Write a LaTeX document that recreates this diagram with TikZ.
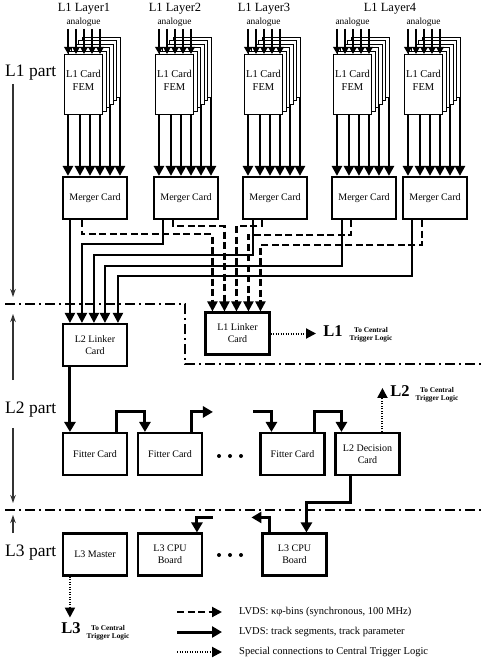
\documentclass[tikz,border=0pt]{standalone}
\usepackage{fontspec}
\setmainfont{Liberation Serif}
\usetikzlibrary{arrows.meta}
\begin{document}
\begin{tikzpicture}[x=1pt,y=-1pt,
 box/.style={draw,line width=2.1pt,fill=white,minimum width=64pt,minimum height=42pt,inner sep=1pt,align=center,font=\fontsize{10}{12}\selectfont},
 card/.style={draw,line width=0.9pt,fill=white,minimum width=38pt,minimum height=60pt,inner sep=0pt,anchor=north west},
 feed/.style={line width=2.8pt,-{Triangle[length=10pt,width=10pt]}},
 ana/.style={line width=2.3pt,-{Triangle[length=7pt,width=7.5pt]}},
 sc/.style={line width=2.1pt,-{Triangle[length=10pt,width=10pt]}},
 dc/.style={sc,dash pattern=on 7pt off 3.5pt},
 fc/.style={line width=3pt,-{Triangle[length=10pt,width=11pt]}},
 dotc/.style={line width=2pt,dash pattern=on 1.2pt off 1.3pt,-{Triangle[length=10pt,width=10pt]}},
 bound/.style={line width=1.6pt,dash pattern=on 10pt off 4pt on 2pt off 4pt},
 side/.style={line width=1.3pt,draw=black!80,-{Stealth[length=8pt,width=5.5pt]}},
 part/.style={font=\fontsize{17.5}{20}\selectfont,inner sep=0pt,anchor=west},
 big/.style={font=\fontsize{16.5}{18}\selectfont\bfseries,inner sep=0pt},
 small/.style={font=\fontsize{7.3}{8.3}\selectfont\bfseries,align=center,inner sep=0pt},
 lay/.style={font=\fontsize{12.5}{14}\selectfont,inner sep=0pt},
 analab/.style={font=\fontsize{9.4}{11}\selectfont,inner sep=0pt},
 femlab/.style={font=\fontsize{10.5}{13}\selectfont,align=center,inner sep=0pt},
 leg/.style={font=\fontsize{10.5}{12}\selectfont,anchor=west,inner sep=0pt}
]
\useasboundingbox (0,0) rectangle (484,671);

% merger cards
\foreach \s/\cx in {1/95,2/186,3/275,4/364,5/435}
  \node[box] (m\s) at (\cx,198) {Merger Card};

% L1 card stacks
\foreach \s/\X in {1/64,2/155,3/244,4/333,5/404}{
  \foreach \dx in {6,18,28,38,48,58}
    \draw[feed] ([xshift=\dx pt,yshift=110pt]m\s.north west) -- ([xshift=\dx pt]m\s.north west);
  \foreach \k in {5,4,3,2,1,0}
    \node[card] (c\s k\k) at ({\X+3.6*\k},{54-3.4*\k}) {};
  \node[femlab] (fem\s) at ({\X+19.5},80) {L1 Card\\FEM};
  \foreach \ax in {4,12,20,28,36}
    \draw[ana] ([xshift=\ax pt,yshift=25pt]c\s k0.north west) -- ([xshift=\ax pt]c\s k0.north west);
  \node[analab] (an\s) at ({\X+19.5},22) {analogue};
}

\node[lay] (lay1) at (84,9) {L1 Layer1};
\node[lay] (lay2) at (175,9) {L1 Layer2};
\node[lay] (lay3) at (264,9) {L1 Layer3};
\node[lay] (lay4) at (390,9) {L1 Layer4};

% linkers
\node[box] (l1) at (237.5,333.5) {L1 Linker\\Card};
\node[box] (l2) at (95,345) {L2 Linker\\Card};

% merger -> L2 linker
\draw[sc] ([xshift=8pt]m1.south west) -- ([xshift=8pt]l2.north west);
\draw[sc] ([xshift=10pt]m2.south west) -- ++(0,24) -| ([xshift=20pt]l2.north west);
\draw[sc] ([xshift=11pt]m3.south west) -- ++(0,35) -| ([xshift=32pt]l2.north west);
\draw[sc] ([xshift=11pt]m4.south west) -- ++(0,46) -| ([xshift=43pt]l2.north west);
\draw[sc] ([xshift=10pt]m5.south west) -- ++(0,56) -| ([xshift=56pt]l2.north west);
% merger -> L1 linker
\draw[dc] ([xshift=20pt]m1.south west) -- ++(0,14) -| ([xshift=8pt]l1.north west);
\draw[dc] ([xshift=20pt]m2.south west) -- ++(0,6) -| ([xshift=20pt]l1.north west);
\draw[dc] ([xshift=20pt]m3.south west) -- ++(0,6) -| ([xshift=32pt]l1.north west);
\draw[dc] ([xshift=20pt]m4.south west) -- ++(0,15) -| ([xshift=44pt]l1.north west);
\draw[dc] ([xshift=20pt]m5.south west) -- ++(0,25) -| ([xshift=56pt]l1.north west);

% L1 output
\coordinate (l1o) at (316,333.5);
\draw[dotc] (l1.east) -- (l1o);
\node[big] (t1) at (333,331) {L1};
\node[small] (s1) at (371,335) {To Central\\Trigger Logic};

% boundaries
\draw[bound] (5,304) -- (185,304) -- (185,364) -- (484,364);
\draw[bound] (5,510) -- (484,510);

% side labels
\node[part] (p1) at (5,73) {L1 part};
\node[part] (p2) at (5,410) {L2 part};
\node[part] (p3) at (5,553) {L3 part};
\coordinate (p1e) at (13,297);
\coordinate (p2n) at (13,314);
\coordinate (p2s) at (13,503);
\coordinate (p3n) at (13,515);
\draw[side] ([xshift=8pt,yshift=-3pt]p1.south west) -- (p1e);
\draw[side] ([xshift=8pt,yshift=22pt]p2.north west) -- (p2n);
\draw[side] ([xshift=8pt,yshift=-10pt]p2.south west) -- (p2s);
\draw[side] ([xshift=8pt,yshift=12pt]p3.north west) -- (p3n);

% L2 part
\node[box] (f1) at (95,454) {Fitter Card};
\node[box] (f2) at (170,454) {Fitter Card};
\node[box] (f3) at (292.5,454) {Fitter Card};
\node[box] (dec) at (367.5,454) {L2 Decision\\Card};
\foreach \i in {0,1,2} \fill (219+11*\i,456) circle (2pt);
\coordinate (fo) at ([xshift=76pt,yshift=20pt]f2.north west);
\coordinate (fi) at ([xshift=-6pt,yshift=20pt]f3.north west);
\coordinate (l2o) at ([xshift=48pt,yshift=44pt]dec.north west);
\draw[fc] ([xshift=8pt]l2.south west) -- ([xshift=8pt]f1.north west);
\draw[fc] ([xshift=55pt]f1.north west) -- ++(0,-20) -| ([xshift=8pt]f2.north west);
\draw[fc] ([xshift=55pt]f2.north west) -- ++(0,-20) -- (fo);
\draw[fc] (fi) -| ([xshift=12pt]f3.north west);
\draw[fc] ([xshift=55pt]f3.north west) -- ++(0,-20) -| ([xshift=7pt]dec.north west);
\draw[dotc] ([xshift=48pt]dec.north west) -- (l2o);
\node[big] (t2) at (400,391) {L2};
\node[small] (s2) at (437,395) {To Central\\Trigger Logic};

% L3 part
\node[box] (mas) at (95,554.5) {L3 Master};
\node[box] (cpu1) at (170,554.5) {L3 CPU\\Board};
\node[box] (cpu2) at (294.5,554.5) {L3 CPU\\Board};
\foreach \i in {0,1,2} \fill (219+11*\i,555) circle (2pt);
\draw[fc] ([xshift=16pt]dec.south west) -- ++(0,26) -| ([xshift=45pt]cpu2.north west);
\coordinate (co) at ([xshift=-10pt,yshift=15pt]cpu2.north west);
\coordinate (ci) at ([xshift=76pt,yshift=15pt]cpu1.north west);
\coordinate (l3o) at ([xshift=8pt,yshift=-41pt]mas.south west);
\draw[fc] ([xshift=8pt]cpu2.north west) -- ++(0,-15) -- (co);
\draw[fc] (ci) -| ([xshift=60pt]cpu1.north west);
\draw[dotc] ([xshift=8pt]mas.south west) -- (l3o);
\node[big] (t3) at (71,628) {L3};
\node[small] (s3) at (108,633) {To Central\\Trigger Logic};

% legend
\coordinate (g1a) at (177,612); \coordinate (g1b) at (222,612);
\coordinate (g2a) at (177,632); \coordinate (g2b) at (222,632);
\coordinate (g3a) at (177,652); \coordinate (g3b) at (222,652);
\draw[dc] (g1a) -- (g1b);
\draw[fc] (g2a) -- (g2b);
\draw[dotc] (g3a) -- (g3b);
\node[leg] (lt1) at (239,612) {LVDS: κφ-bins (synchronous, 100 MHz)};
\node[leg] (lt2) at (239,632) {LVDS: track segments, track parameter};
\node[leg] (lt3) at (239,652) {Special connections to Central Trigger Logic};
\end{tikzpicture}
\end{document}
